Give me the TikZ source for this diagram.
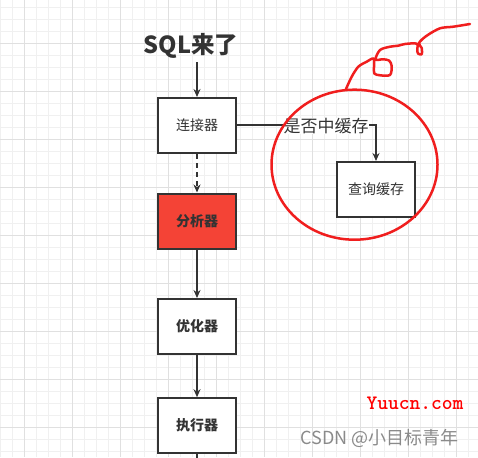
\documentclass[tikz,border=0pt]{standalone}
\usepackage{fontspec}
\usepackage{tikz}
\usetikzlibrary{arrows.meta}
\newfontfamily\cjk{Noto Sans CJK SC}
\definecolor{ink}{HTML}{333333}
\definecolor{hotred}{HTML}{F44336}
\definecolor{penred}{HTML}{F01E1E}
\definecolor{wmgray}{HTML}{8A8A8A}
\definecolor{gridminor}{HTML}{F0F0F0}
\definecolor{gridmajor}{HTML}{E0E0E0}
\tikzset{
  stagebox/.style={draw=ink, line width=2pt, fill=white, minimum width=78pt,
    minimum height=55pt, inner sep=0pt, text=ink, font=\cjk\fontsize{14}{16}\selectfont},
  boldstage/.style={stagebox, font=\cjk\bfseries\fontsize{14}{16}\selectfont},
  flow/.style={draw=ink, line width=2pt, -{Stealth[length=8pt,width=7pt]}},
  pen/.style={draw=penred, line width=2.5pt, line cap=round, line join=round},
}

\begin{document}
\begin{tikzpicture}[x=1pt,y=-1pt]
    \useasboundingbox (0,0) rectangle (478,457);
\fill[white] (0,0) rectangle (478,457); % background
\foreach \k in {0,...,39} \draw[gridminor, line width=1pt] ({0.7+12*\k},0) -- ({0.7+12*\k},457); % grid
\foreach \k in {0,...,37} \draw[gridminor, line width=1pt] (0,{7.3+12*\k}) -- (478,{7.3+12*\k}); % grid
\foreach \k in {0,...,9} \draw[gridmajor, line width=1pt] ({24.7+48*\k},0) -- ({24.7+48*\k},457); % grid
\foreach \k in {0,...,8} \draw[gridmajor, line width=1pt] (0,{43.3+48*\k}) -- (478,{43.3+48*\k}); % grid
\node[text=ink, font=\cjk\bfseries\fontsize{23.5}{25}\selectfont] (sql) at (191,46) {SQL来了}; % start
\node[stagebox] (conn) at (197,125.5) {连接器}; % connector
\node[boldstage, fill=hotred] (parse) at (197,221) {分析器}; % parser
\node[boldstage] (optim) at (197,326.5) {优化器}; % optimizer
\node[boldstage] (exec) at (197,425.7) {执行器}; % executor
\node[stagebox] (cache) at (376,189.5) {查询缓存}; % cache
\coordinate (tail) at (197,462); % tail
\draw[flow] (sql.south -| conn.north) -- (conn); % sql-conn
\draw[flow, dash pattern=on 5pt off 4pt] (conn) -- (parse); % conn-parse
\draw[flow] (parse) -- (optim); % parse-optim
\draw[flow] (optim) -- (exec); % optim-exec
\draw[draw=ink, line width=2pt] (exec) -- (tail); % exec-tail
\draw[flow] (conn.east) -| (cache.north); % conn-cache
\node[fill=white, inner sep=0.5pt, text=ink, font=\cjk\fontsize{17}{19}\selectfont] (hit) at (326,126) {是否中缓存}; % conn-cache
\draw[pen] (354.5,164.7) ellipse [x radius=83pt, y radius=75pt]; % mark
\draw[pen] plot[smooth, tension=0.5] coordinates {(346,89) (351.7,76.7) (358.3,66.7) (366.7,61.7) (373.5,58.5) (374,67) (374.3,73.5) (380,75.3) (390,75) (391.7,66) (389,60.5) (383,59.3) (375.5,59.5) (380,50) (390,46.7) (398.3,45.7) (405,44) (416.7,43.7) (417.3,50) (418,53.5) (421.7,54.3) (421.7,48) (419,43) (426.7,35.7) (440,28.3) (453.3,26.7) (470,24)}; % mark
\node[anchor=east, text=red, font=\ttfamily\bfseries\fontsize{20.5}{22}\selectfont] (site) at (467,403) {Yuucn.com}; % watermark
\node[anchor=east, text=wmgray, font=\cjk\fontsize{18}{20}\selectfont] (csdn) at (462,438) {CSDN @小目标青年}; % watermark

    \end{tikzpicture}
\end{document}
